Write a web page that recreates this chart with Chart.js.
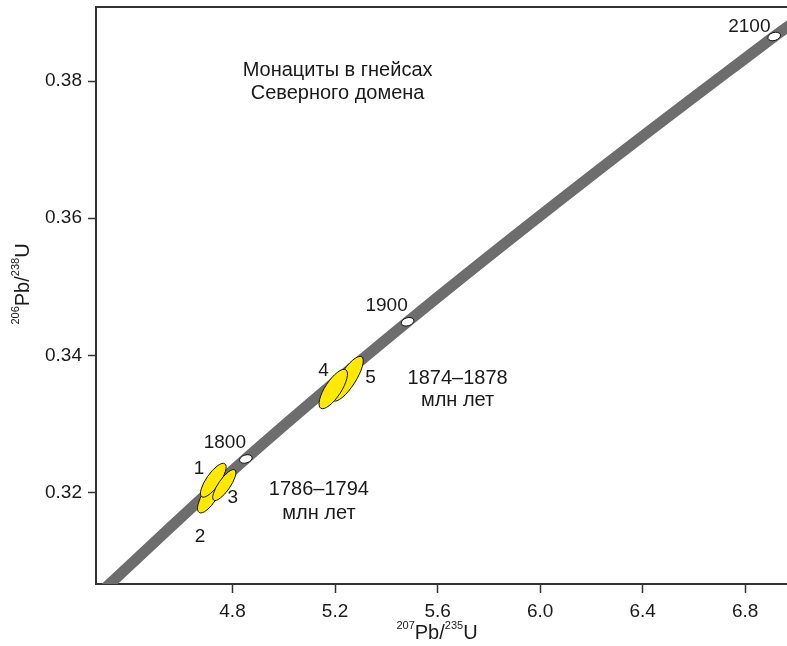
<!DOCTYPE html>
<html>
<head>
<meta charset="utf-8">
<script src="https://cdn.jsdelivr.net/npm/chart.js@4.4.1/dist/chart.umd.min.js"></script>
<style>
  html, body { margin: 0; padding: 0; background: #fff; }
  #wrap { width: 787px; height: 646px; }
</style>
</head>
<body>
<div id="wrap"><canvas id="concordia"></canvas></div>
<script>
// tick labels
const xTicks = [4.8, 5.2, 5.6, 6.0, 6.4, 6.8];
const yTicks = [0.32, 0.34, 0.36, 0.38];

// concordia curve
const concordiaX = [4.287, 4.848, 5.483, 6.169, 6.913, 7.014];
const concordiaY = [0.3055, 0.3248, 0.3449, 0.3653, 0.3865, 0.3892];

// age marks on the concordia (Ma)
const markerAges = ['1800', '1900', '2100'];
const markerX = [4.852, 5.483, 6.913];
const markerY = [0.3249, 0.3449, 0.3865];

// monazite spots: ellipse centre, end of long axis, minor/major ratio
const spotLabels = ['1', '2', '3', '4', '5'];
const spotX = [4.725, 4.712, 4.768, 5.193, 5.249];
const spotY = [0.3218, 0.3196, 0.3211, 0.3351, 0.3366];
const spotTipX = [4.770, 4.754, 4.809, 5.242, 5.304];
const spotTipY = [0.3242, 0.3221, 0.3233, 0.3379, 0.3398];
const spotRatio = [0.34, 0.36, 0.32, 0.35, 0.31];
const drawOrder = [1, 0, 2, 4, 3];

// text placed in data coordinates
const notes = [
  { text: 'Монациты в гнейсах', x: 5.210, y: 0.3815, size: 20 },
  { text: 'Северного домена', x: 5.210, y: 0.3782, size: 20 },
  { text: '1874–1878', x: 5.678, y: 0.3367, size: 20 },
  { text: 'млн лет', x: 5.678, y: 0.3334, size: 20 },
  { text: '1786–1794', x: 5.137, y: 0.3205, size: 20 },
  { text: 'млн лет', x: 5.137, y: 0.3170, size: 20 },
  { text: spotLabels[0], x: 4.669, y: 0.3234, size: 19 },
  { text: spotLabels[1], x: 4.673, y: 0.3135, size: 19 },
  { text: spotLabels[2], x: 4.801, y: 0.3192, size: 19 },
  { text: spotLabels[3], x: 5.155, y: 0.3377, size: 19 },
  { text: spotLabels[4], x: 5.338, y: 0.3367, size: 19 },
  { text: markerAges[0], x: 4.770, y: 0.3272, size: 19 },
  { text: markerAges[1], x: 5.401, y: 0.3472, size: 19 },
  { text: markerAges[2], x: 6.816, y: 0.3879, size: 19 }
];

const FONT = '"Liberation Sans", Arial, sans-serif';
const INK = '#1a1a1a';

function supText(ctx, parts, cx, cy) {
  let w = 0;
  parts.forEach(p => {
    ctx.font = (p[1] ? 11 : 20) + 'px ' + FONT;
    w += ctx.measureText(p[0]).width;
  });
  let x = cx - w / 2;
  parts.forEach(p => {
    ctx.font = (p[1] ? 11 : 20) + 'px ' + FONT;
    ctx.fillText(p[0], x, p[1] ? cy - 7 : cy);
    x += ctx.measureText(p[0]).width;
  });
}

const overlay = {
  id: 'overlay',
  afterDatasetsDraw(chart) {
    const ctx = chart.ctx;
    const xs = chart.scales.x, ys = chart.scales.y;
    const area = chart.chartArea;
    ctx.save();
    ctx.beginPath();
    ctx.rect(area.left, area.top, area.right - area.left, area.bottom - area.top);
    ctx.clip();

    // spots
    drawOrder.forEach(i => {
      const cx = xs.getPixelForValue(spotX[i]), cy = ys.getPixelForValue(spotY[i]);
      const tx = xs.getPixelForValue(spotTipX[i]), ty = ys.getPixelForValue(spotTipY[i]);
      const a = Math.hypot(tx - cx, ty - cy);
      ctx.beginPath();
      ctx.ellipse(cx, cy, a, a * spotRatio[i], Math.atan2(ty - cy, tx - cx), 0, Math.PI * 2);
      ctx.fillStyle = '#ffe900';
      ctx.fill();
      ctx.lineWidth = 1;
      ctx.strokeStyle = '#111';
      ctx.stroke();
    });

    // age marks
    markerX.forEach((v, i) => {
      const px = xs.getPixelForValue(v), py = ys.getPixelForValue(markerY[i]);
      ctx.beginPath();
      ctx.ellipse(px, py, 6.5, 4, -0.3, 0, Math.PI * 2);
      ctx.fillStyle = '#fff';
      ctx.fill();
      ctx.lineWidth = 1;
      ctx.strokeStyle = '#111';
      ctx.stroke();
    });

    // labels
    ctx.fillStyle = INK;
    ctx.textAlign = 'center';
    ctx.textBaseline = 'middle';
    notes.forEach(n => {
      ctx.font = n.size + 'px ' + FONT;
      ctx.fillText(n.text, xs.getPixelForValue(n.x), ys.getPixelForValue(n.y));
    });
    ctx.restore();

    // top frame line
    ctx.save();
    ctx.strokeStyle = '#333';
    ctx.lineWidth = 2;
    ctx.beginPath();
    ctx.moveTo(area.left - 1, area.top);
    ctx.lineTo(area.right, area.top);
    ctx.stroke();

    // axis titles
    ctx.fillStyle = INK;
    ctx.textAlign = 'left';
    ctx.textBaseline = 'middle';
    supText(ctx, [['207', true], ['Pb/', false], ['235', true], ['U', false]], 437, 633);
    ctx.translate(23, 284);
    ctx.rotate(-Math.PI / 2);
    supText(ctx, [['206', true], ['Pb/', false], ['238', true], ['U', false]], 0, 0);
    ctx.restore();
  }
};

new Chart(document.getElementById('concordia'), {
  type: 'scatter',
  data: {
    datasets: [{
      label: 'Конкордия',
      data: concordiaX.map((x, i) => ({ x: x, y: concordiaY[i] })),
      showLine: true,
      borderColor: '#6d6d6d',
      borderWidth: 11,
      pointRadius: 0,
      tension: 0.4,
      clip: 0
    }]
  },
  options: {
    responsive: true,
    maintainAspectRatio: false,
    animation: false,
    layout: { padding: { top: 7, right: 0, left: 0, bottom: 0 } },
    plugins: { legend: { display: false }, tooltip: { enabled: false } },
    scales: {
      x: {
        type: 'linear',
        min: 4.2675,
        max: 6.963,
        afterBuildTicks: s => { s.ticks = xTicks.map(v => ({ value: v })); },
        afterFit: s => { s.height = 62; s.paddingLeft = 0; s.paddingRight = 0; },
        ticks: {
          color: INK,
          padding: 7,
          maxRotation: 0,
          font: { family: FONT, size: 19 },
          callback: v => v.toFixed(1)
        },
        grid: { drawOnChartArea: false, tickLength: 9, tickColor: '#333', tickWidth: 1.5 },
        border: { color: '#333', width: 2 }
      },
      y: {
        type: 'linear',
        min: 0.30667,
        max: 0.3908,
        afterBuildTicks: s => { s.ticks = yTicks.map(v => ({ value: v })); },
        afterFit: s => { s.width = 96; s.paddingTop = 0; s.paddingBottom = 0; },
        ticks: {
          color: INK,
          padding: 6,
          font: { family: FONT, size: 19 },
          callback: v => v.toFixed(2)
        },
        grid: { drawOnChartArea: false, tickLength: 8, tickColor: '#333', tickWidth: 1.5 },
        border: { color: '#333', width: 2 }
      }
    }
  },
  plugins: [overlay]
});
</script>
</body>
</html>
